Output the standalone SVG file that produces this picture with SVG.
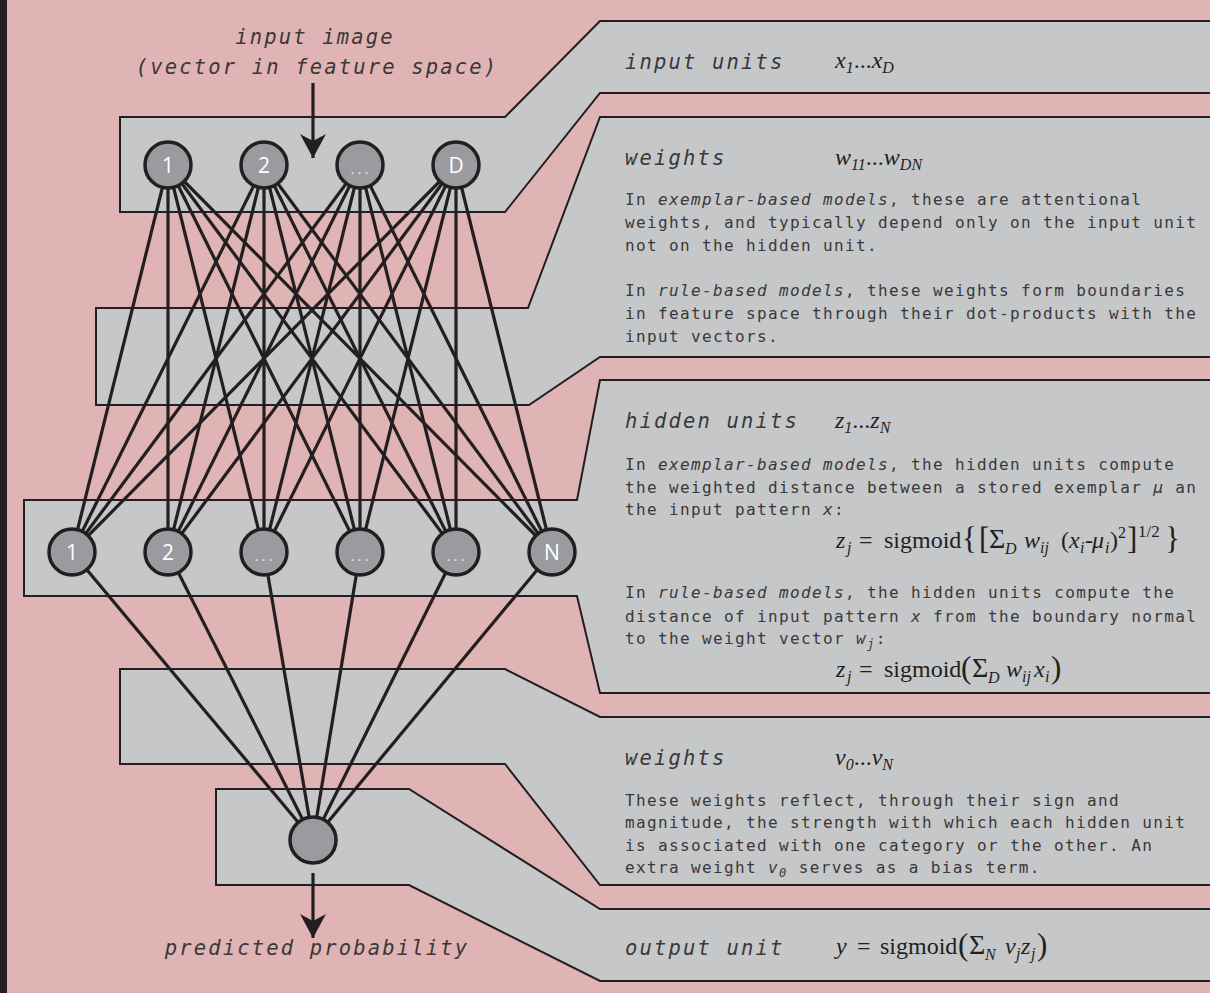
<svg xmlns="http://www.w3.org/2000/svg" width="1210" height="993" viewBox="0 0 1210 993">
  <defs>
    <style>
      .panel { fill: #c6c7c9; stroke: #231f20; stroke-width: 2; stroke-linejoin: miter; }
      .edge { stroke: #231f20; stroke-width: 3.2; fill: none; }
      .node circle { fill: #9a9b9f; stroke: #231f20; stroke-width: 3.5; }
      .nl { font-family: "Open Sans", "Noto Sans", sans-serif; font-size: 21px; fill: #ffffff; text-anchor: middle; }
      .dots { font-family: "Open Sans", "Noto Sans", sans-serif; font-size: 15px; fill: #e8e8e8; text-anchor: middle; letter-spacing: 3px; }
      .lbl { font-family: "DejaVu Sans Mono", monospace; font-size: 20.5px; font-style: italic; fill: #3a3839; letter-spacing: 2.15px; }
      .body { font-family: "DejaVu Sans Mono", monospace; font-size: 16px; fill: #3a3839; letter-spacing: 1.37px; }
      .it { font-style: italic; }
      .bs { font-size: 12px; font-style: italic; }
      .m { font-family: "Liberation Serif", "Times New Roman", serif; font-size: 24px; fill: #231f20; }
      .mi { font-style: italic; }
      .ms { font-size: 16px; font-style: italic; }
      .mu { font-size: 16px; }
      .mh { font-size: 17px; }
      .big { font-size: 31px; }
      .sig { font-size: 28px; }
    </style>
    <marker id="head" markerUnits="userSpaceOnUse" markerWidth="30" markerHeight="30" refX="24" refY="13" orient="auto">
      <path d="M24,13 L0,0 L7,13 L0,26 Z" fill="#231f20"/>
    </marker>
  </defs>

  <!-- page -->
  <rect x="0" y="0" width="1210" height="993" fill="#e0b3b4"/>
  <rect x="0" y="0" width="7" height="993" fill="#231f20"/>

  <!-- layer bands, each reaching out to its caption on the right -->
  <g id="bands">
    <path class="panel" d="M120,117 H505 L600,21 H1215 V93 H600 L505,212 H120 Z"/>
    <path class="panel" d="M96,308 H528 L600,117 H1215 V357 H600 L529,405 H96 Z"/>
    <path class="panel" d="M24,500 H577 L600,380 H1215 V693 H600 L577,596 H24 Z"/>
    <path class="panel" d="M120,669 H505 L600,717 H1215 V885 H600 L505,764 H120 Z"/>
    <path class="panel" d="M216,789 H409 L600,909 H1215 V981 H600 L409,885 H216 Z"/>
  </g>

  <!-- connectors -->
  <g id="connectors">
    <!-- input units to hidden units -->
    <line class="edge" x1="168" y1="165" x2="72" y2="552"/>
    <line class="edge" x1="168" y1="165" x2="168" y2="552"/>
    <line class="edge" x1="168" y1="165" x2="264" y2="552"/>
    <line class="edge" x1="168" y1="165" x2="360" y2="552"/>
    <line class="edge" x1="168" y1="165" x2="456" y2="552"/>
    <line class="edge" x1="168" y1="165" x2="552" y2="552"/>
    <line class="edge" x1="264" y1="165" x2="72" y2="552"/>
    <line class="edge" x1="264" y1="165" x2="168" y2="552"/>
    <line class="edge" x1="264" y1="165" x2="264" y2="552"/>
    <line class="edge" x1="264" y1="165" x2="360" y2="552"/>
    <line class="edge" x1="264" y1="165" x2="456" y2="552"/>
    <line class="edge" x1="264" y1="165" x2="552" y2="552"/>
    <line class="edge" x1="360" y1="165" x2="72" y2="552"/>
    <line class="edge" x1="360" y1="165" x2="168" y2="552"/>
    <line class="edge" x1="360" y1="165" x2="264" y2="552"/>
    <line class="edge" x1="360" y1="165" x2="360" y2="552"/>
    <line class="edge" x1="360" y1="165" x2="456" y2="552"/>
    <line class="edge" x1="360" y1="165" x2="552" y2="552"/>
    <line class="edge" x1="456" y1="165" x2="72" y2="552"/>
    <line class="edge" x1="456" y1="165" x2="168" y2="552"/>
    <line class="edge" x1="456" y1="165" x2="264" y2="552"/>
    <line class="edge" x1="456" y1="165" x2="360" y2="552"/>
    <line class="edge" x1="456" y1="165" x2="456" y2="552"/>
    <line class="edge" x1="456" y1="165" x2="552" y2="552"/>
    <!-- hidden units to output unit -->
    <line class="edge" x1="72" y1="552" x2="313" y2="840"/>
    <line class="edge" x1="168" y1="552" x2="313" y2="840"/>
    <line class="edge" x1="264" y1="552" x2="313" y2="840"/>
    <line class="edge" x1="360" y1="552" x2="313" y2="840"/>
    <line class="edge" x1="456" y1="552" x2="313" y2="840"/>
    <line class="edge" x1="552" y1="552" x2="313" y2="840"/>
    <!-- input and output arrows -->
    <line class="edge" x1="313" y1="83" x2="313" y2="158" marker-end="url(#head)"/>
    <line class="edge" x1="313" y1="873" x2="313" y2="938" marker-end="url(#head)"/>
  </g>

  <!-- input units -->
  <g id="in1" class="node"><circle cx="168" cy="165" r="23"/><text class="nl" x="168" y="173">1</text></g>
  <g id="in2" class="node"><circle cx="264" cy="165" r="23"/><text class="nl" x="264" y="173">2</text></g>
  <g id="in3" class="node"><circle cx="360" cy="165" r="23"/><text class="dots" x="361" y="174">...</text></g>
  <g id="inD" class="node"><circle cx="456" cy="165" r="23"/><text class="nl" x="456" y="173">D</text></g>

  <!-- hidden units -->
  <g id="h1" class="node"><circle cx="72" cy="552" r="23"/><text class="nl" x="72" y="560">1</text></g>
  <g id="h2" class="node"><circle cx="168" cy="552" r="23"/><text class="nl" x="168" y="560">2</text></g>
  <g id="h3" class="node"><circle cx="264" cy="552" r="23"/><text class="dots" x="265" y="561">...</text></g>
  <g id="h4" class="node"><circle cx="360" cy="552" r="23"/><text class="dots" x="361" y="561">...</text></g>
  <g id="h5" class="node"><circle cx="456" cy="552" r="23"/><text class="dots" x="457" y="561">...</text></g>
  <g id="hN" class="node"><circle cx="552" cy="552" r="23"/><text class="nl" x="552" y="560">N</text></g>

  <!-- output unit -->
  <g id="out" class="node"><circle cx="313" cy="840" r="23"/></g>

  <!-- side labels -->
  <g id="io-labels">
    <text class="lbl" x="315" y="44" text-anchor="middle">input image</text>
    <text class="lbl" x="317" y="74" text-anchor="middle">(vector in feature space)</text>
    <text class="lbl" x="317" y="955" text-anchor="middle">predicted probability</text>
  </g>

  <!-- caption: input units -->
  <g id="cap-input">
    <text class="lbl" x="625" y="69">input units</text>
    <text class="m" x="835" y="68"><tspan class="mi">x</tspan><tspan class="ms" dy="5">1</tspan><tspan dy="-5">...</tspan><tspan class="mi">x</tspan><tspan class="ms" dy="5">D</tspan></text>
  </g>

  <!-- caption: first weights -->
  <g id="cap-w">
    <text class="lbl" x="625" y="165">weights</text>
    <text class="m" x="835" y="165"><tspan class="mi">w</tspan><tspan class="ms" dy="5">11</tspan><tspan dy="-5">...</tspan><tspan class="mi">w</tspan><tspan class="ms" dy="5">DN</tspan></text>
    <text class="body" x="625" y="205">In <tspan class="it">exemplar-based models</tspan>, these are attentional</text>
    <text class="body" x="625" y="228">weights, and typically depend only on the input unit</text>
    <text class="body" x="625" y="251">not on the hidden unit.</text>
    <text class="body" x="625" y="296">In <tspan class="it">rule-based models</tspan>, these weights form boundaries</text>
    <text class="body" x="625" y="319">in feature space through their dot-products with the</text>
    <text class="body" x="625" y="342">input vectors.</text>
  </g>

  <!-- caption: hidden units -->
  <g id="cap-hidden">
    <text class="lbl" x="625" y="428">hidden units</text>
    <text class="m" x="835" y="428"><tspan class="mi">z</tspan><tspan class="ms" dy="5">1</tspan><tspan dy="-5">...</tspan><tspan class="mi">z</tspan><tspan class="ms" dy="5">N</tspan></text>
    <text class="body" x="625" y="470">In <tspan class="it">exemplar-based models</tspan>, the hidden units compute</text>
    <text class="body" x="625" y="493">the weighted distance between a stored exemplar <tspan class="it">μ</tspan> an</text>
    <text class="body" x="625" y="515">the input pattern <tspan class="it">x</tspan>:</text>
    <text class="m">
      <tspan class="mi" x="836" y="548">z</tspan><tspan class="ms" x="847" y="553">j</tspan>
      <tspan x="859" y="548">=</tspan>
      <tspan x="884" y="548">sigmoid</tspan>
      <tspan class="big" x="962" y="549">{</tspan>
      <tspan class="big" x="979" y="549">[</tspan>
      <tspan class="sig" x="989" y="548">Σ</tspan><tspan class="ms" x="1005" y="554">D</tspan>
      <tspan class="mi" x="1024" y="548">w</tspan><tspan class="ms" x="1040" y="553">ij</tspan>
      <tspan x="1061" y="548">(</tspan><tspan class="mi" x="1069" y="548">x</tspan><tspan class="ms" x="1080" y="553">i</tspan><tspan x="1085" y="548">-</tspan><tspan class="mi" x="1092" y="548">μ</tspan><tspan class="ms" x="1105" y="553">i</tspan><tspan x="1110" y="548">)</tspan><tspan class="mu" x="1118" y="538">2</tspan>
      <tspan class="big" x="1127" y="549">]</tspan><tspan class="mh" x="1138" y="537">1/2</tspan>
      <tspan class="big" x="1165" y="549">}</tspan>
    </text>
    <text class="body" x="625" y="598">In <tspan class="it">rule-based models</tspan>, the hidden units compute the</text>
    <text class="body" x="625" y="622">distance of input pattern <tspan class="it">x</tspan> from the boundary normal</text>
    <text class="body" x="625" y="644">to the weight vector <tspan class="it">w</tspan><tspan class="bs" dy="4">j</tspan><tspan dy="-4">:</tspan></text>
    <text class="m">
      <tspan class="mi" x="836" y="677">z</tspan><tspan class="ms" x="847" y="682">j</tspan>
      <tspan x="859" y="677">=</tspan>
      <tspan x="884" y="677">sigmoid</tspan>
      <tspan class="big" x="961" y="678">(</tspan>
      <tspan class="sig" x="972" y="677">Σ</tspan><tspan class="ms" x="988" y="683">D</tspan>
      <tspan class="mi" x="1006" y="677">w</tspan><tspan class="ms" x="1022" y="682">ij</tspan>
      <tspan class="mi" x="1034" y="677">x</tspan><tspan class="ms" x="1045" y="682">i</tspan>
      <tspan class="big" x="1051" y="678">)</tspan>
    </text>
  </g>

  <!-- caption: second weights -->
  <g id="cap-v">
    <text class="lbl" x="625" y="765">weights</text>
    <text class="m" x="835" y="765"><tspan class="mi">v</tspan><tspan class="ms" dy="5">0</tspan><tspan dy="-5">...</tspan><tspan class="mi">v</tspan><tspan class="ms" dy="5">N</tspan></text>
    <text class="body" x="625" y="806">These weights reflect, through their sign and</text>
    <text class="body" x="625" y="828">magnitude, the strength with which each hidden unit</text>
    <text class="body" x="625" y="851">is associated with one category or the other. An</text>
    <text class="body" x="625" y="873">extra weight <tspan class="it">v</tspan><tspan class="bs" dy="4">0</tspan><tspan dy="-4"> serves as a bias term.</tspan></text>
  </g>

  <!-- caption: output unit -->
  <g id="cap-output">
    <text class="lbl" x="625" y="955">output unit</text>
    <text class="m">
      <tspan class="mi" x="836" y="954">y</tspan>
      <tspan x="857" y="954">=</tspan>
      <tspan x="880" y="954">sigmoid</tspan>
      <tspan class="big" x="958" y="955">(</tspan>
      <tspan class="sig" x="969" y="954">Σ</tspan><tspan class="ms" x="985" y="960">N</tspan>
      <tspan class="mi" x="1005" y="954">v</tspan><tspan class="ms" x="1016" y="959">j</tspan>
      <tspan class="mi" x="1021" y="954">z</tspan><tspan class="ms" x="1031" y="959">j</tspan>
      <tspan class="big" x="1037" y="955">)</tspan>
    </text>
  </g>
</svg>
